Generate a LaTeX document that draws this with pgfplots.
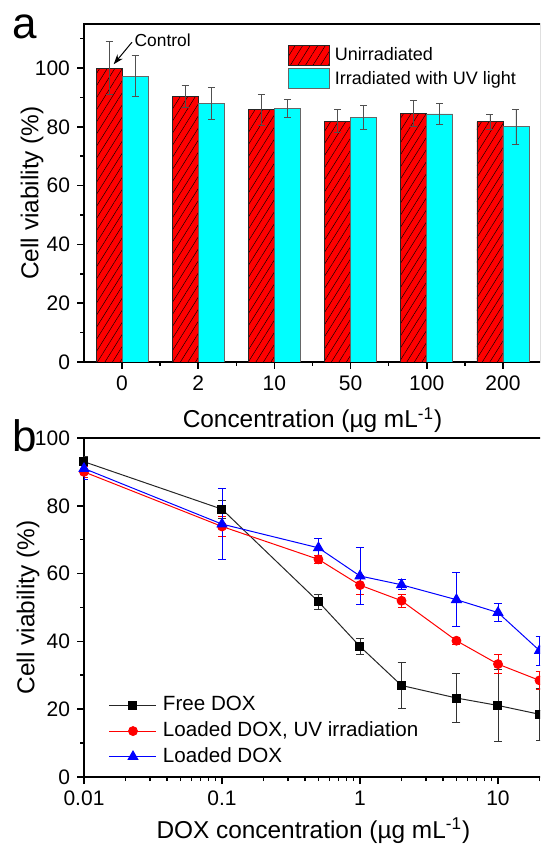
\documentclass[border=0pt]{standalone}
\usepackage{fontspec}
\setmainfont{Liberation Sans}
\usepackage{pgfplots}
\pgfplotsset{compat=1.18}
\usetikzlibrary{patterns.meta,arrows.meta}
\definecolor{myred}{RGB}{255,0,0}
\definecolor{mycyan}{RGB}{0,255,255}
\definecolor{errgray}{RGB}{80,80,80}
\pgfplotsset{
  mybarlegend/.style={legend image code/.code={\draw[##1] (0pt,-5pt) rectangle (20.5pt,5pt);}},
}
\begin{document}
\begin{tikzpicture}
\useasboundingbox (0,0) rectangle (270pt,422pt);
\clip (0,0) rectangle (270pt,422pt);
\pgfplotsset{
  every axis/.append style={
    scale only axis,
    axis line style={line width=1pt},
    tick align=outside,
    tick pos=left,
    major tick style={line width=0.8pt, black},
    minor tick style={line width=0.8pt, black},
    major tick length=3.5pt,
    minor tick length=2pt,
    tick label style={font=\fontsize{10.5}{12}\selectfont},
    label style={font=\fontsize{12.2}{14}\selectfont},
    /pgf/number format/assume math mode=true,
  }
}
% ---------------- panel a ----------------
\begin{axis}[
  at={(42pt,241pt)}, anchor=south west,
  width=228.5pt, height=169pt,
  xmin=0.5, xmax=6.5, ymin=0, ymax=115,
  xtick={1,2,3,4,5,6}, xticklabels={0,2,10,50,100,200},
  minor xtick={1.5,2.5,3.5,4.5,5.5},
  ytick={0,20,40,60,80,100}, minor ytick={10,30,50,70,90,110},
  xlabel={Concentration (µg mL\textsuperscript{-1})},
  ylabel={Cell viability (\%)},
  xlabel style={at={(axis description cs:0.5,0)}, anchor=base, yshift=-33pt},
  ylabel style={at={(axis description cs:-0.0996,0.5)}, anchor=base},
  legend style={at={(0.4464,0.9388)}, anchor=north west, draw=none, fill=none,
    inner sep=0pt, outer sep=0pt, row sep=1.5pt,
    font=\fontsize{9}{10}\selectfont,
    nodes={inner sep=0pt, text height=0.75em, text depth=0.2em},
    /tikz/every odd column/.append style={column sep=2.5pt}},
  legend cell align=left,
]
\addplot[ybar, bar width=13pt, bar shift=0pt, fill=myred, draw=black!85, line width=0.4pt,
  postaction={pattern={Lines[angle=58,distance=3.2pt,line width=0.22pt]}, pattern color=black},
  mybarlegend,
  error bars/.cd, y dir=both, y explicit,
  error bar style={errgray, line width=0.4pt},
  error mark options={rotate=90, errgray, mark size=1.75pt, line width=0.4pt}]
coordinates {(0.8293,100) +- (0,9.0) (1.8293,90.4) +- (0,3.8) (2.8293,85.8) +- (0,5.2)
             (3.8293,81.9) +- (0,3.9) (4.8293,84.7) +- (0,4.4) (5.8293,81.7) +- (0,2.6)};
\addlegendentry{Unirradiated}
\addplot[ybar, bar width=13pt, bar shift=0pt, fill=mycyan, draw=black!60, line width=0.4pt,
  mybarlegend,
  error bars/.cd, y dir=both, y explicit,
  error bar style={errgray, line width=0.4pt},
  error mark options={rotate=90, errgray, mark size=1.75pt, line width=0.4pt}]
coordinates {(1.1707,97.3) +- (0,6.9) (2.1707,88.0) +- (0,5.3) (3.1707,86.3) +- (0,3.1)
             (4.1707,83.1) +- (0,4.1) (5.1707,84.4) +- (0,3.6) (6.1707,80.0) +- (0,6.0)};
\addlegendentry{Irradiated with UV light}
\draw[-{Stealth[length=5pt,width=3.5pt]}, line width=0.5pt] (axis cs:1.13,108.8) -- (axis cs:0.89,101.3);
\node[anchor=west, inner sep=0pt, font=\fontsize{8.7}{10}\selectfont] at (axis cs:1.16,109.4) {Control};
\end{axis}
% ---------------- panel b ----------------
\begin{axis}[
  at={(42pt,33.5pt)}, anchor=south west,
  width=231.95pt, height=169.5pt,
  xmode=log, xmin=0.01, xmax=23, ymin=0, ymax=100,
  xtick={0.01,0.1,1,10}, xticklabels={0.01,0.1,1,10},
  minor xtick={0.02,0.03,0.04,0.05,0.06,0.07,0.08,0.09,0.2,0.3,0.4,0.5,0.6,0.7,0.8,0.9,2,3,4,5,6,7,8,9,20},
  ytick={0,20,40,60,80,100}, minor ytick={10,30,50,70,90},
  xlabel={DOX concentration (µg mL\textsuperscript{-1})},
  ylabel={Cell viability (\%)},
  xlabel style={at={(axis description cs:0.4944,0)}, anchor=base, yshift=-30.5pt},
  ylabel style={at={(axis description cs:-0.107,0.5)}, anchor=base},
  legend style={at={(0.0539,0.239)}, anchor=north west, draw=none, fill=none,
    inner sep=0pt, outer sep=0pt, row sep=3.3pt,
    font=\fontsize{10.3}{12}\selectfont,
    nodes={inner sep=0pt, text height=0.75em, text depth=0.2em},
    /tikz/every odd column/.append style={column sep=3pt}},
  legend cell align=left,
  legend image code/.code={\draw[mark repeat=2,mark phase=2,#1] plot coordinates {(0pt,0pt) (11.75pt,0pt) (23.5pt,0pt)};},
]
\addplot[black!85, line width=0.5pt, mark=square*, mark size=2pt, mark options={solid, fill=black, draw=black},
  error bars/.cd, y dir=both, y explicit,
  error bar style={black!80, line width=0.4pt},
  error mark options={rotate=90, black!80, mark size=2pt, line width=0.4pt}]
coordinates {(0.01,93.0) +- (0,1.5) (0.1,79.0) +- (0,2.7) (0.5,51.7) +- (0,2.3) (1,38.5) +- (0,2.3)
             (2,27.0) +- (0,6.7) (5,23.3) +- (0,7.3) (10,21.1) +- (0,10.5) (20,18.5) +- (0,7.7)};
\addlegendentry{Free DOX}
\addplot[red, line width=0.5pt, mark=*, mark size=2.2pt, mark options={solid, fill=red, draw=red},
  error bars/.cd, y dir=both, y explicit,
  error bar style={red, line width=0.4pt},
  error mark options={rotate=90, red, mark size=2pt, line width=0.4pt}]
coordinates {(0.01,90.0) +- (0,1.5) (0.1,73.9) +- (0,3.0) (0.5,64.2) +- (0,1.3) (1,56.6) +- (0,2.8)
             (2,52.0) +- (0,2.0) (5,40.2) +- (0,1.0) (10,33.3) +- (0,2.8) (20,28.5) +- (0,2.7)};
\addlegendentry{Loaded DOX, UV irradiation}
\addplot[blue, line width=0.5pt, mark=triangle*, mark size=2.8pt, mark options={solid, fill=blue, draw=blue},
  error bars/.cd, y dir=both, y explicit,
  error bar style={blue, line width=0.4pt},
  error mark options={rotate=90, blue, mark size=2pt, line width=0.4pt}]
coordinates {(0.01,91.0) +- (0,3.3) (0.1,74.6) +- (0,10.4) (0.5,67.6) +- (0,2.9) (1,59.3) +- (0,8.5)
             (2,56.7) +- (0,1.5) (5,52.3) +- (0,8.0) (10,48.5) +- (0,2.7) (20,37.3) +- (0,4.3)};
\addlegendentry{Loaded DOX}
\end{axis}
\node[anchor=base west, inner sep=0pt, font=\fontsize{22}{24}\selectfont] at (6pt,402.75pt) {a};
\node[anchor=base west, inner sep=0pt, font=\fontsize{22}{24}\selectfont] at (6pt,196pt) {b};
\end{tikzpicture}
\end{document}
